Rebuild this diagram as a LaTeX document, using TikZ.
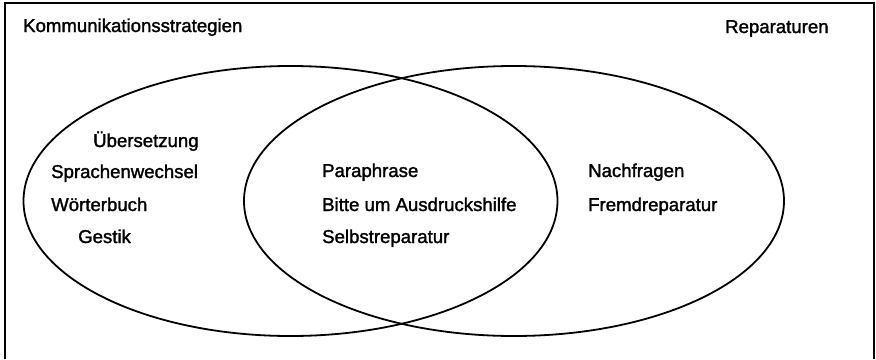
\documentclass[tikz,border=0pt]{standalone}
\usepackage{fontspec}
\setmainfont{Liberation Sans}
\newfontfamily\labfont[FakeBold=1.6]{Liberation Sans}
\begin{document}
\begin{tikzpicture}[x=1pt,y=1pt,
  lab/.style={anchor=base west,inner sep=0pt,font=\labfont\fontsize{18.6}{22}\selectfont},
  frame/.style={line width=1.8pt},
  set/.style={line width=1.8pt}]
\useasboundingbox (0,0) rectangle (876,-359);
\draw[frame] (5,-359) -- (5,-3) -- (874,-3) -- (874,-359);
\draw[set] (290.5,-201) ellipse [x radius=267, y radius=135];
\draw[set] (514,-201) ellipse [x radius=270, y radius=135];
\node[lab] (ks) at (23,-32) {Kommunikationsstrategien};
\node[lab] (rep) at (725,-33) {Reparaturen};
\node[lab] (ueb) at (93,-147) {Übersetzung};
\node[lab] (spr) at (51,-178) {Sprachenwechsel};
\node[lab] (woe) at (51,-211) {Wörterbuch};
\node[lab] (ges) at (78,-243) {Gestik};
\node[lab] (par) at (322,-177) {Paraphrase};
\node[lab] (bit) at (322,-211) {Bitte um Ausdruckshilfe};
\node[lab] (sel) at (322,-243) {Selbstreparatur};
\node[lab] (nach) at (588,-177) {Nachfragen};
\node[lab] (fre) at (588,-211) {Fremdreparatur};
\end{tikzpicture}
\end{document}
